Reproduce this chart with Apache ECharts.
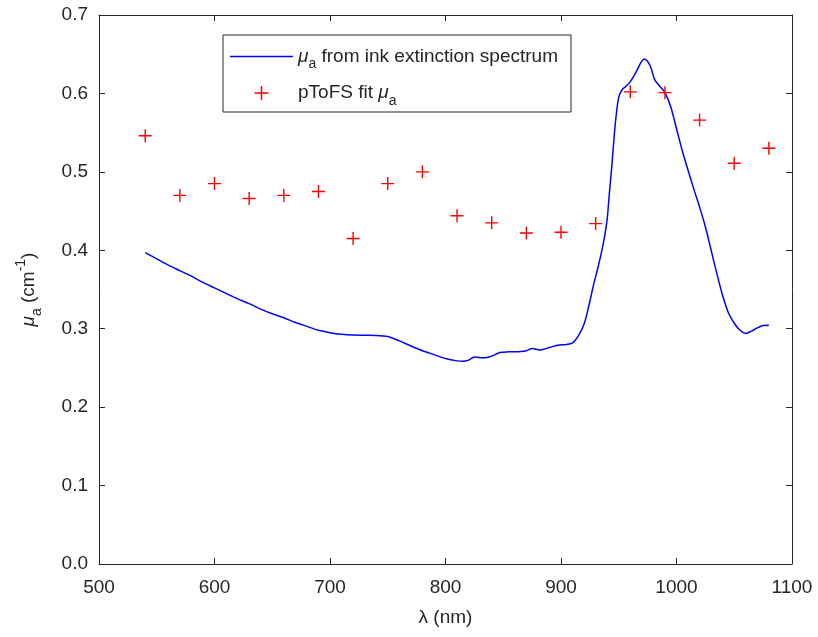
<!DOCTYPE html>
<html>
<head>
<meta charset="utf-8">
<script src="https://cdn.jsdelivr.net/npm/echarts@6/dist/echarts.min.js"></script>
<style>
html,body{margin:0;padding:0;background:#fff;}
#chart{width:818px;height:637px;}
</style>
</head>
<body>
<div id="chart"></div>
<script>
// Ink extinction spectrum (nm, cm^-1)
var inkLambda = [540,550,560,570,580,590,600,610,620,630,640,650,660,670,680,690,700,710,720,730,740,750,760,770,780,790,800,810,815,820,825,830,835,840,847,855,865,870,875,882,890,897,905,910,915,920,925,928,932,935,938,940,942,944,946,948,950,953,957,960,963,966,969,972,975,978,981,985,990,995,1000,1005,1010,1015,1020,1025,1030,1035,1040,1045,1050,1055,1060,1065,1070,1075,1080];
var inkMu = [0.397,0.389,0.381,0.374,0.367,0.359,0.352,0.345,0.338,0.332,0.325,0.319,0.314,0.308,0.303,0.298,0.295,0.293,0.292,0.2917,0.2915,0.290,0.2845,0.278,0.272,0.267,0.262,0.259,0.2585,0.260,0.264,0.263,0.263,0.265,0.2697,0.2705,0.271,0.272,0.2748,0.273,0.276,0.279,0.280,0.282,0.291,0.306,0.335,0.355,0.378,0.397,0.420,0.440,0.475,0.507,0.545,0.575,0.595,0.605,0.610,0.615,0.622,0.630,0.639,0.644,0.641,0.632,0.618,0.610,0.601,0.583,0.555,0.527,0.502,0.478,0.455,0.430,0.400,0.370,0.342,0.320,0.307,0.298,0.294,0.297,0.301,0.304,0.3045];
// pToFS fit
var fitLambda = [540,570,600,630,660,690,720,750,780,810,840,870,900,930,960,990,1020,1050,1080];
var fitMu = [0.546,0.470,0.485,0.466,0.470,0.475,0.415,0.485,0.500,0.444,0.435,0.422,0.423,0.434,0.602,0.601,0.566,0.511,0.530];
// axis ticks
var xTicks = {min:500, max:1100, interval:100};
var yTicks = {min:0, max:0.7, interval:0.1};

var inkData = inkLambda.map(function(x,i){return [x, inkMu[i]];});
var fitData = fitLambda.map(function(x,i){return [x, fitMu[i]];});

var txt = '#262626';
var FONT = 'Liberation Sans, Arial, Helvetica, sans-serif';
var plusPath = 'path://M5.35,0h1.3v5.35h5.35v1.3h-5.35v5.35h-1.3v-5.35h-5.35v-1.3h5.35z';
var linePath = 'path://M0,0h63v1.6h-63z';

var richBase = {
  m: {fontSize:19, fontFamily:FONT, color:txt, lineHeight:30},
  mu: {fontSize:19, fontFamily:FONT, color:txt, fontStyle:'italic', lineHeight:30},
  sub: {fontSize:14, fontFamily:FONT, color:txt, lineHeight:12, verticalAlign:'bottom'},
  sup: {fontSize:14, fontFamily:FONT, color:txt, lineHeight:12, verticalAlign:'top'}
};

var chart = echarts.init(document.getElementById('chart'), null, {renderer:'canvas'});
var axisCommon = {
  axisLine:{show:true, onZero:false, lineStyle:{color:txt, width:1}},
  axisTick:{show:true, inside:true, length:6, lineStyle:{color:txt, width:1}},
  splitLine:{show:false}
};
chart.setOption({
  animation:false,
  backgroundColor:'#fff',
  grid:{left:99, right:26, top:15, bottom:73},
  legend:{
    orient:'vertical', left:223, top:35,
    padding:[12, 13, 4, 7], itemGap:12, itemWidth:63, itemHeight:14,
    backgroundColor:'#fff', borderColor:txt, borderWidth:1,
    data:[{name:'ink', icon:linePath},{name:'fit', icon:plusPath}],
    formatter:function(name){
      if(name==='ink') return '{mu|μ}{sub|a}{m| from ink extinction spectrum}';
      return '{m|pToFS fit }{mu|μ}{sub|a}';
    },
    textStyle:{rich:richBase}
  },
  xAxis:[
    Object.assign({type:'value', position:'bottom', min:xTicks.min, max:xTicks.max, interval:xTicks.interval,
      name:'λ (nm)', nameLocation:'middle', nameGap:44,
      nameTextStyle:{fontSize:19, fontFamily:FONT, color:txt},
      axisLabel:{fontSize:19, fontFamily:FONT, color:txt, margin:14,
        formatter:function(v){return String(v);}}}, axisCommon),
    Object.assign({type:'value', position:'top', min:xTicks.min, max:xTicks.max, interval:xTicks.interval,
      axisLabel:{show:false}}, axisCommon)
  ],
  yAxis:[
    Object.assign({type:'value', position:'left', min:yTicks.min, max:yTicks.max, interval:yTicks.interval,
      name:'{mu|μ}{sub|a}{m| (cm}{sup|-1}{m|)}', nameLocation:'middle', nameGap:55, nameRotate:90,
      nameTextStyle:{rich:richBase},
      axisLabel:{fontSize:19, fontFamily:FONT, color:txt, margin:11,
        formatter:function(v){return v.toFixed(1);}}}, axisCommon),
    Object.assign({type:'value', position:'right', min:yTicks.min, max:yTicks.max, interval:yTicks.interval,
      axisLabel:{show:false}}, axisCommon)
  ],
  series:[
    {name:'ink', type:'line', data:inkData, showSymbol:false, symbol:'none', smooth:0.3,
      lineStyle:{color:'#0000ff', width:1.5}, itemStyle:{color:'#0000ff'}, z:2},
    {name:'fit', type:'scatter', data:fitData, symbol:plusPath, symbolSize:13,
      itemStyle:{color:'#ff0000', opacity:1}, z:3}
  ]
});
</script>
</body>
</html>
